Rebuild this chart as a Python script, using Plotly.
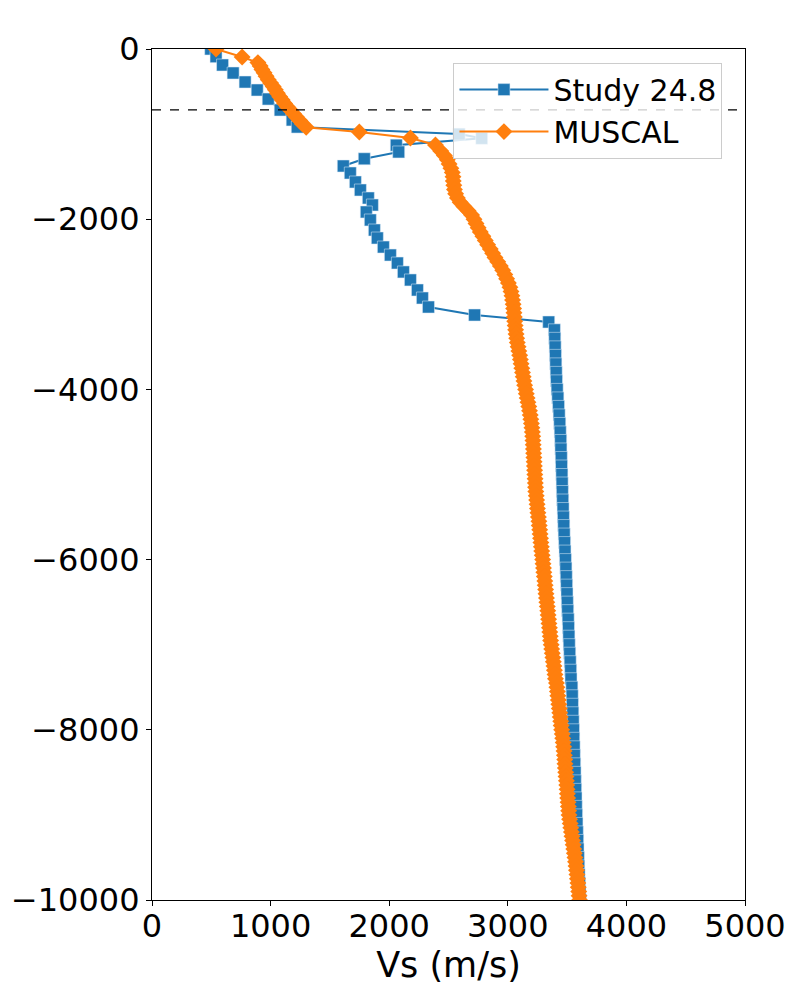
import plotly.graph_objects as go

# ---------------- data ----------------
study_depth = [0, -90, -188, -282, -388, -482, -588, -717, -834, -917,
               -1000, -1050, -1130, -1210, -1290, -1375, -1457, -1563, -1657, -1751,
               -1833, -1915, -2009, -2127, -2221, -2327, -2421, -2515, -2620, -2714,
               -2832, -2926, -3032, -3126, -3208,
               -3300, -3400, -3500, -3600, -3700, -3800, -3900, -4000, -4100, -4200,
               -4300, -4400, -4500, -4600, -4700, -4800, -4900, -5000, -5100, -5200,
               -5300, -5400, -5500, -5600, -5700, -5800, -5900, -6000, -6100, -6200,
               -6300, -6400, -6500, -6600, -6700, -6800, -6900, -7000, -7100, -7200,
               -7300, -7400, -7500, -7600, -7700, -7800, -7900, -8000, -8100, -8200,
               -8300, -8400, -8500, -8600, -8700, -8800, -8900, -9000, -9100, -9200,
               -9300, -9400, -9500, -9600, -9700, -9800, -9900, -10000]
study_vs = [495, 540, 595, 684, 785, 887, 980, 1081, 1182, 1225,
            2590, 2780, 2060, 2080, 1790, 1613, 1672, 1715, 1757, 1824,
            1858, 1807, 1841, 1875, 1900, 1951, 2010, 2069, 2120, 2179,
            2238, 2280, 2331, 2720, 3345,
            3393, 3396, 3399, 3402, 3405, 3408, 3411, 3416, 3422, 3428,
            3433, 3438, 3442, 3446, 3448, 3451, 3453, 3456, 3458, 3460,
            3463, 3466, 3469, 3472, 3475, 3479, 3482, 3486, 3490, 3493,
            3496, 3499, 3502, 3505, 3509, 3512, 3515, 3518, 3522, 3526,
            3530, 3533, 3540, 3543, 3545, 3548, 3551, 3554, 3556, 3559,
            3561, 3564, 3567, 3569, 3572, 3575, 3577, 3580, 3583, 3586,
            3589, 3592, 3595, 3598, 3601, 3605, 3608, 3611]

muscal_depth = [0, -94,
                -160, -200, -240, -280, -320, -360, -400, -440, -480, -520,
                -560, -600, -640, -680, -720, -760, -800, -840, -880, -920,
                -975, -1046, -1128,
                -1200, -1250, -1300, -1350, -1400, -1450, -1500, -1550, -1600, -1650,
                -1700, -1750, -1800, -1850, -1900, -1950, -2000, -2050, -2100, -2150,
                -2200, -2250, -2300, -2350, -2400, -2450, -2500, -2550, -2600, -2650,
                -2700, -2750, -2800, -2850, -2900, -2950, -3000, -3050, -3100, -3150,
                -3200, -3250, -3300, -3350, -3400, -3450, -3500, -3550, -3600, -3650,
                -3700, -3750, -3800, -3850, -3900, -3950, -4000, -4050, -4100, -4150,
                -4200, -4250, -4300, -4350, -4400, -4450, -4500, -4550, -4600, -4650,
                -4700, -4750, -4800, -4850, -4900, -4950, -5000, -5050, -5100, -5150,
                -5200, -5250, -5300, -5350, -5400, -5450, -5500, -5550, -5600, -5650,
                -5700, -5750, -5800, -5850, -5900, -5950, -6000, -6050, -6100, -6150,
                -6200, -6250, -6300, -6350, -6400, -6450, -6500, -6550, -6600, -6650,
                -6700, -6750, -6800, -6850, -6900, -6950, -7000, -7050, -7100, -7150,
                -7200, -7250, -7300, -7350, -7400, -7450, -7500, -7550, -7600, -7650,
                -7700, -7750, -7800, -7850, -7900, -7950, -8000, -8050, -8100, -8150,
                -8200, -8250, -8300, -8350, -8400, -8450, -8500, -8550, -8600, -8650,
                -8700, -8750, -8800, -8850, -8900, -8950, -9000, -9050, -9100, -9150,
                -9200, -9250, -9300, -9350, -9400, -9450, -9500, -9550, -9600, -9650,
                -9700, -9750, -9800, -9850, -9900, -9950, -10000]
muscal_vs = [540, 760,
             893, 912, 927, 945, 962, 980, 1000, 1022, 1040, 1057,
             1077, 1098, 1118, 1140, 1168, 1193, 1218, 1245, 1268, 1300,
             1748, 2179, 2390,
             2435, 2465, 2490, 2505, 2520, 2532, 2538, 2540, 2545, 2550,
             2560, 2575, 2598, 2630, 2665, 2695, 2715, 2732, 2750, 2768,
             2790, 2810, 2830, 2852, 2872, 2892, 2915, 2937, 2957, 2975,
             2990, 3005, 3018, 3027, 3035, 3040, 3045, 3049, 3052, 3055,
             3058, 3062, 3066, 3070, 3075, 3080, 3087, 3093, 3100, 3106,
             3112, 3118, 3124, 3130, 3136, 3142, 3150, 3156, 3163, 3170,
             3177, 3183, 3189, 3194, 3199, 3203, 3207, 3210, 3212, 3214,
             3216, 3218, 3220, 3222, 3224, 3226, 3228, 3230, 3232, 3234,
             3236, 3240, 3243, 3247, 3250, 3254, 3258, 3262, 3265, 3269,
             3272, 3276, 3279, 3283, 3286, 3290, 3294, 3297, 3301, 3304,
             3308, 3312, 3315, 3319, 3322, 3326, 3329, 3333, 3337, 3340,
             3344, 3347, 3351, 3354, 3358, 3361, 3366, 3370, 3375, 3380,
             3384, 3389, 3393, 3398, 3402, 3410, 3414, 3418, 3422, 3426,
             3430, 3434, 3438, 3442, 3446, 3450, 3454, 3459, 3463, 3467,
             3471, 3474, 3477, 3480, 3482, 3485, 3488, 3491, 3494, 3497,
             3500, 3502, 3505, 3508, 3511, 3513, 3516, 3521, 3526, 3531,
             3536, 3541, 3546, 3551, 3556, 3561, 3566, 3571, 3575, 3579,
             3583, 3587, 3591, 3594, 3598, 3601, 3605]

dashed_depth = -715
x_ticks = [0, 1000, 2000, 3000, 4000, 5000]
x_tick_text = ["0", "1000", "2000", "3000", "4000", "5000"]
y_ticks = [0, -2000, -4000, -6000, -8000, -10000]
y_tick_text = ["0", "\u22122000", "\u22124000", "\u22126000", "\u22128000", "\u221210000"]

BLUE = "#1f77b4"
ORANGE = "#ff7f0e"
FONT = "DejaVu Sans"

fig = go.Figure()
fig.add_trace(go.Scatter(
    x=study_vs, y=study_depth, mode="lines+markers", name="Study 24.8",
    line=dict(color=BLUE, width=2),
    marker=dict(symbol="square", size=12, color=BLUE,
                line=dict(width=0.6, color="rgba(220,235,248,0.9)")),
))
fig.add_trace(go.Scatter(
    x=muscal_vs, y=muscal_depth, mode="lines+markers", name="MUSCAL",
    line=dict(color=ORANGE, width=2),
    marker=dict(symbol="diamond", size=13, color=ORANGE, line=dict(width=0)),
))

fig.add_shape(type="line", xref="paper", x0=0, x1=1, yref="y",
              y0=dashed_depth, y1=dashed_depth,
              line=dict(color="black", width=1.3, dash="dash"), layer="above")

fig.add_annotation(text="Depth (m)", textangle=-90, xref="paper", yref="paper",
                   x=(6 - 152) / 593, y=0.5, xanchor="right", yanchor="middle",
                   showarrow=False, font=dict(family=FONT, size=35, color="black"))

axis_common = dict(showline=True, linecolor="black", linewidth=1.2, mirror=True,
                   ticks="outside", ticklen=5, tickwidth=1.2, tickcolor="black",
                   showgrid=False, zeroline=False,
                   tickfont=dict(family=FONT, size=32, color="black"))

fig.update_xaxes(range=[0, 5000], tickvals=x_ticks, ticktext=x_tick_text,
                 ticklabelstandoff=-8,
                 title=dict(text="Vs (m/s)", font=dict(family=FONT, size=35, color="black"),
                            standoff=0),
                 **axis_common)
fig.update_yaxes(range=[-10000, 0], tickvals=y_ticks, ticktext=y_tick_text,
                 **axis_common)

fig.update_layout(
    width=800, height=1000,
    margin=dict(l=144, r=63, t=41, b=108, autoexpand=False),
    paper_bgcolor="white", plot_bgcolor="white",
    font=dict(family=FONT, color="black"),
    showlegend=True,
    legend=dict(x=0.962, y=0.984, xanchor="right", yanchor="top",
                bgcolor="rgba(255,255,255,0.8)", bordercolor="#cccccc", borderwidth=1,
                font=dict(family=FONT, size=30, color="black"),
                itemwidth=89, tracegroupgap=0),
)

fig.write_html("out.html")
